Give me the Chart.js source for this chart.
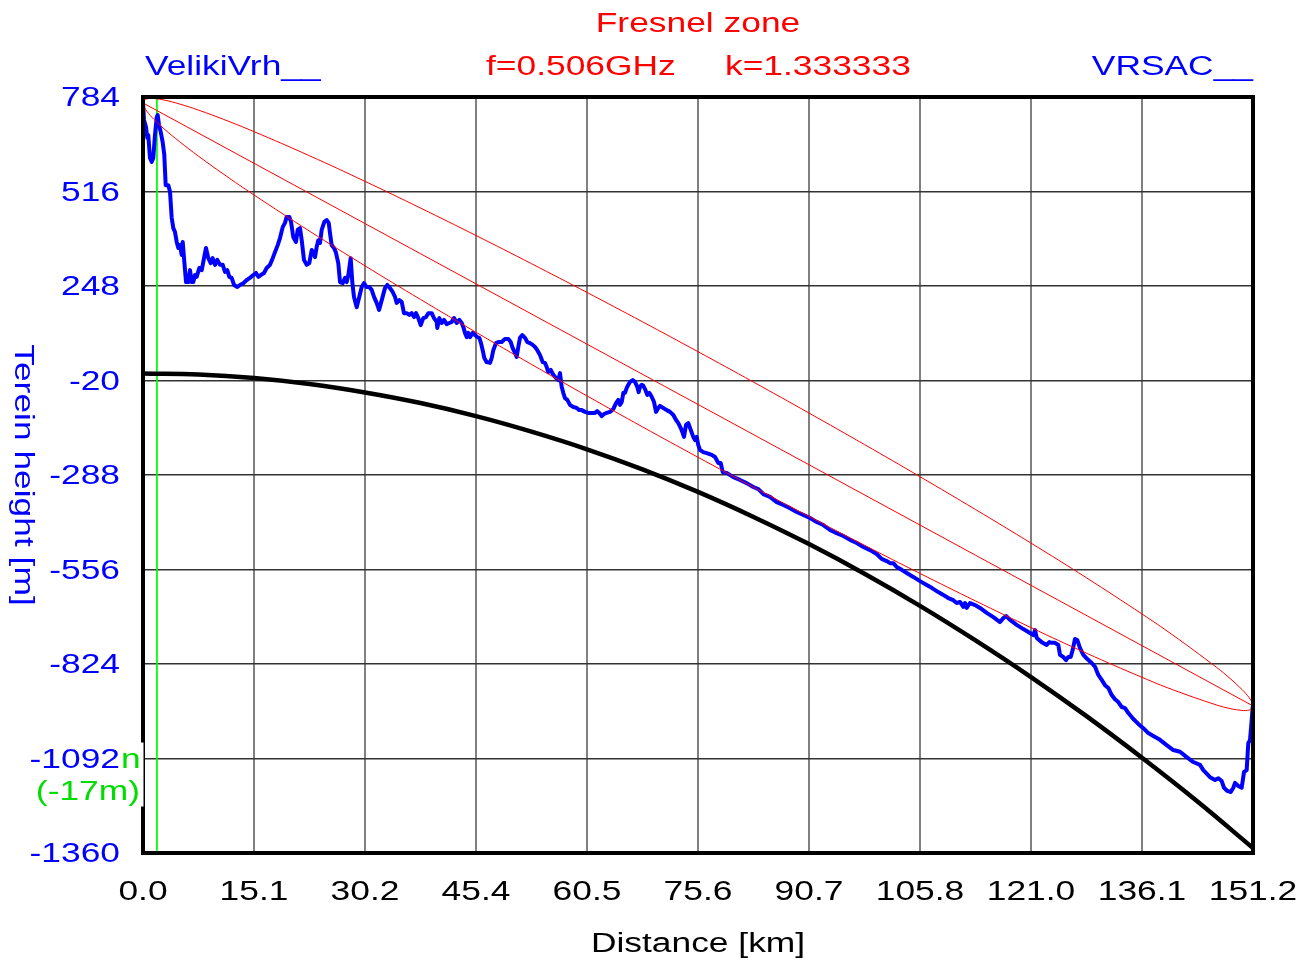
<!DOCTYPE html>
<html>
<head>
<meta charset="utf-8">
<script src="https://cdn.jsdelivr.net/npm/chart.js@4.4.1/dist/chart.umd.min.js"></script>
<style>
  html, body { margin: 0; padding: 0; background: #fff; overflow: hidden; }
  canvas { display: block; }
</style>
</head>
<body>
<canvas id="profileChart" width="1315" height="962"></canvas>
<script>
// link info
var siteA = "VelikiVrh__";
var siteB = "VRSAC__";
var freqText = "f=0.506GHz";
var kText = "k=1.333333";

// terrain profile (distance km, height m incl. earth bulge)
var terrainProfile = [
  [0.0,767],[0.14,719],[0.41,699],[0.59,668],[0.72,676],[0.95,611],[1.19,600],[1.40,611],[1.63,676],[1.87,727],
  [2.00,733],[2.18,705],[2.41,685],[2.68,656],[2.90,620],[3.09,534],[3.45,534],[3.68,515],[3.91,441],[4.13,412],
  [4.36,401],[4.59,373],[4.81,356],[5.04,364],[5.27,336],[5.41,373],[5.63,316],[5.86,259],[6.17,259],[6.40,293],
  [6.63,259],[6.85,259],[7.08,279],[7.31,274],[7.67,299],[8.00,293],[8.31,327],[8.58,356],[8.90,327],[9.22,313],
  [9.49,327],[9.81,308],[10.12,322],[10.49,308],[10.86,308],[11.17,288],[11.48,293],[11.76,274],[12.08,271],[12.40,251],
  [12.85,245],[13.21,251],[13.66,256],[14.13,265],[14.57,271],[15.02,279],[15.39,285],[15.71,274],[16.03,279],[16.48,285],
  [16.85,299],[17.30,308],[17.67,327],[17.98,344],[18.35,364],[18.66,384],[19.03,415],[19.34,427],[19.57,444],[19.93,444],
  [20.16,430],[20.47,387],[20.84,373],[21.07,407],[21.39,412],[21.62,378],[21.93,322],[22.30,308],[22.65,313],[22.98,350],
  [23.20,344],[23.43,330],[23.66,359],[23.88,378],[24.11,370],[24.34,407],[24.70,430],[25.02,435],[25.30,427],[25.47,398],
  [25.70,364],[26.02,356],[26.29,342],[26.60,313],[26.84,259],[27.20,256],[27.52,271],[27.75,259],[27.97,279],[28.29,327],
  [28.51,259],[28.74,217],[29.11,188],[29.42,214],[29.79,245],[30.10,256],[30.47,245],[30.83,245],[31.15,237],[31.47,217],
  [31.83,200],[32.15,180],[32.52,208],[32.96,242],[33.28,251],[33.65,242],[34.01,231],[34.33,217],[34.56,200],[34.91,208],
  [35.24,203],[35.55,171],[35.92,171],[36.28,166],[36.60,171],[36.92,160],[37.19,171],[37.50,157],[37.83,137],[38.18,157],
  [38.55,160],[38.86,171],[39.33,171],[39.64,157],[40.01,146],[40.09,129],[40.36,157],[40.69,143],[41.00,152],[41.37,140],
  [41.72,143],[42.05,146],[42.36,157],[42.73,143],[43.09,152],[43.41,143],[43.63,132],[43.86,115],[44.09,103],[44.31,115],
  [44.54,103],[44.91,115],[45.22,109],[45.54,103],[45.81,101],[46.04,86],[46.27,66],[46.49,44],[46.82,32],[47.27,30],
  [47.50,44],[47.72,66],[48.08,86],[48.40,89],[48.86,89],[49.31,98],[49.76,98],[50.09,89],[50.36,72],[50.67,58],
  [50.90,47],[51.12,75],[51.35,101],[51.67,109],[52.04,101],[52.35,89],[52.72,86],[53.08,81],[53.40,75],[53.71,66],
  [54.08,52],[54.45,32],[54.76,30],[54.99,18],[55.21,4],[55.54,10],[55.89,-4],[56.26,-13],[56.57,-19],[56.80,1],
  [57.03,-38],[57.25,-55],[57.48,-70],[57.80,-75],[58.16,-89],[58.61,-95],[59.08,-98],[59.43,-104],[59.76,-104],[60.21,-109],
  [60.66,-112],[61.12,-112],[61.57,-112],[61.88,-107],[62.16,-112],[62.48,-121],[62.80,-115],[63.16,-112],[63.61,-109],[64.06,-101],
  [64.43,-84],[64.74,-75],[64.98,-89],[65.21,-81],[65.43,-55],[65.66,-55],[65.89,-41],[66.11,-32],[66.34,-24],[66.71,-19],
  [67.02,-24],[67.33,-38],[67.52,-53],[67.70,-38],[67.93,-32],[68.15,-35],[68.42,-46],[68.70,-61],[68.97,-55],[69.29,-66],
  [69.61,-81],[69.88,-109],[70.19,-98],[70.42,-92],[70.87,-98],[71.34,-104],[71.79,-109],[72.24,-118],[72.61,-132],[72.92,-141],
  [73.25,-155],[73.52,-169],[73.69,-180],[73.97,-146],[74.28,-141],[74.61,-160],[74.96,-180],[75.19,-189],[75.42,-180],[75.64,-203],
  [75.87,-217],[76.32,-223],[76.79,-226],[77.47,-231],[77.92,-237],[78.37,-254],[78.69,-254],[78.97,-280],[79.51,-282],[80.41,-294],
  [81.32,-302],[82.23,-311],[83.13,-322],[83.82,-328],[84.50,-342],[85.41,-350],[86.32,-365],[87.22,-373],[88.13,-382],[89.05,-393],
  [89.94,-401],[90.86,-410],[91.77,-421],[92.67,-430],[93.58,-444],[94.49,-453],[95.39,-461],[96.31,-472],[97.22,-481],[98.12,-492],
  [99.03,-501],[99.94,-512],[100.62,-526],[101.30,-532],[101.76,-538],[102.21,-538],[102.67,-549],[103.35,-557],[104.03,-566],[104.93,-577],
  [105.84,-589],[106.75,-600],[107.43,-608],[108.33,-620],[109.01,-628],[109.69,-637],[110.37,-643],[110.84,-651],[111.29,-648],[111.74,-662],
  [111.97,-651],[112.20,-665],[112.65,-651],[113.33,-657],[114.01,-665],[114.93,-679],[115.83,-691],[116.74,-705],[117.19,-694],[117.56,-688],
  [118.10,-699],[119.01,-713],[119.91,-725],[120.83,-736],[121.28,-742],[121.51,-728],[121.74,-750],[122.42,-762],[123.10,-770],[123.46,-762],
  [123.78,-764],[124.23,-764],[124.68,-770],[124.91,-798],[125.36,-804],[125.73,-813],[126.04,-804],[126.37,-804],[126.64,-784],[126.95,-753],
  [127.27,-756],[127.64,-779],[128.09,-798],[128.63,-810],[129.23,-821],[129.68,-832],[130.13,-855],[130.59,-869],[131.04,-884],[131.49,-892],
  [131.95,-912],[132.40,-924],[132.85,-932],[133.32,-946],[133.77,-949],[134.22,-963],[134.90,-980],[135.58,-994],[136.26,-1006],[136.94,-1020],
  [137.62,-1028],[138.53,-1039],[139.44,-1054],[140.34,-1068],[141.26,-1073],[142.17,-1088],[143.07,-1102],[143.98,-1110],[144.43,-1125],[145.35,-1145],
  [146.03,-1153],[146.48,-1148],[146.94,-1156],[147.25,-1175],[147.71,-1184],[148.17,-1187],[148.52,-1175],[148.75,-1161],[149.20,-1170],[149.66,-1175],
  [149.98,-1130],[150.34,-1125],[150.56,-1048],[150.79,-1040],[151.02,-983],[151.16,-946],[151.20,-943]
];

// earth curvature line (k=4/3)
var earthDist   = [0, 7.56, 15.12, 22.68, 30.24, 37.8, 45.36, 52.92, 60.48, 68.04, 75.6, 83.16, 90.72, 98.28, 105.84, 113.4, 120.96, 128.52, 136.08, 143.64, 151.2];
var earthHeight = [0, -3, -13, -30, -54, -84, -121, -165, -215, -272, -336, -407, -484, -568, -659, -757, -861, -972, -1090, -1214, -1346];

// line of sight + first fresnel zone edges
var losDist   = [0, 151.2];
var losHeight = [767, -943];
var fresnelDist  = [0, 0.05, 0.15, 0.5, 1, 1.5, 3, 5, 7.56, 11, 15.12, 22.68, 30.24, 37.8, 45.36, 52.92, 60.48, 68.04, 75.6, 83.16, 90.72, 98.28, 105.84, 113.4, 120.96, 128.52, 136.08, 140.2, 146.2, 148.2, 149.7, 150.2, 150.7, 151.05, 151.15, 151.2];
var fresnelUpper = [767, 771.8, 774.7, 778.5, 780.0, 779.7, 774.9, 764.0, 746.8, 720.4, 685.8, 617.4, 544.8, 469.1, 391.2, 311.3, 229.7, 146.5, 61.7, -24.5, -112.3, -201.7, -292.8, -385.9, -481.2, -579.6, -682.2, -740.8, -833.0, -867.3, -896.3, -907.4, -920.1, -931.9, -937.0, -943];
var fresnelLower = [767, 761.0, 755.9, 744.1, 731.4, 720.3, 691.3, 657.0, 616.2, 564.8, 506.2, 403.6, 305.2, 209.9, 116.8, 25.7, -63.7, -151.5, -237.7, -322.5, -405.7, -487.3, -567.2, -645.1, -720.8, -793.4, -861.8, -896.4, -940.0, -950.9, -955.7, -956.0, -954.5, -950.7, -947.8, -943];

// marker
var markerDist = 1.9;
var markerLabel = "(-17m)";

var xMin = 0, xMax = 151.2, xStep = 15.12;
var yMin = -1360, yMax = 784, yStep = 268;

function pairs(xs, ys) {
  return xs.map(function (x, i) { return { x: x, y: ys[i] }; });
}

var FONT = '27px "Liberation Sans", Arial, sans-serif';
var STRETCH = 1.31;

function stretchText(ctx, s, x, y, color, align) {
  ctx.save();
  ctx.translate(x, y + 2);
  ctx.scale(STRETCH, 1);
  ctx.font = FONT;
  ctx.fillStyle = color;
  ctx.textAlign = align;
  ctx.textBaseline = 'middle';
  ctx.fillText(s, 0, 0);
  ctx.restore();
}

var decorPlugin = {
  id: 'decor',
  beforeDraw: function (chart) {
    var ctx = chart.ctx;
    ctx.save();
    ctx.fillStyle = '#ffffff';
    ctx.fillRect(0, 0, chart.width, chart.height);
    ctx.restore();
  },
  afterDraw: function (chart) {
    var ctx = chart.ctx;
    var a = chart.chartArea;
    var xs = chart.scales.x, ys = chart.scales.y;

    // frame
    ctx.save();
    ctx.strokeStyle = '#000';
    ctx.lineWidth = 4;
    ctx.strokeRect(a.left, a.top, a.right - a.left, a.bottom - a.top);
    ctx.restore();

    // white patch behind marker label
    var yMark = ys.getPixelForValue(-1092);
    ctx.save();
    ctx.fillStyle = '#fff';
    ctx.fillRect(30, yMark - 16, a.left + 0.5 - 30, 64);
    ctx.restore();

    // y tick labels
    ys.ticks.forEach(function (t) {
      stretchText(ctx, String(Math.round(t.value)), 120, ys.getPixelForValue(t.value), '#0000ff', 'right');
    });
    // green leftover next to -1092
    stretchText(ctx, 'n', 121, yMark, '#00dd00', 'left');
    stretchText(ctx, markerLabel, 140, yMark + 32, '#00dd00', 'right');

    // x tick labels
    xs.ticks.forEach(function (t) {
      stretchText(ctx, t.value.toFixed(1), xs.getPixelForValue(t.value), 891, '#000', 'center');
    });

    // axis titles
    var cx = (a.left + a.right) / 2;
    stretchText(ctx, 'Distance [km]', cx, 943, '#000', 'center');
    ctx.save();
    ctx.translate(22, (a.top + a.bottom) / 2);
    ctx.rotate(Math.PI / 2);
    stretchText(ctx, 'Terein height [m]', 0, -2, '#0000ff', 'center');
    ctx.restore();

    // header
    stretchText(ctx, 'Fresnel zone', cx, 23, '#ff0000', 'center');
    stretchText(ctx, siteA, 145, 66, '#0000ff', 'left');
    stretchText(ctx, freqText, 486, 66, '#ff0000', 'left');
    stretchText(ctx, kText, 725, 66, '#ff0000', 'left');
    stretchText(ctx, siteB, a.right, 66, '#0000ff', 'right');
  }
};

var profileChartContext = document.getElementById('profileChart').getContext('2d');
var profileChart = new Chart(profileChartContext, {
  type: 'line',
  data: {
    datasets: [{
      label: 'Fresnel upper',
      data: pairs(fresnelDist, fresnelUpper),
      borderColor: '#ff0000',
      borderWidth: 1,
      tension: 0.4,
      pointRadius: 0,
      order: 0
    }, {
      label: 'Fresnel lower',
      data: pairs(fresnelDist, fresnelLower),
      borderColor: '#ff0000',
      borderWidth: 1,
      tension: 0.4,
      pointRadius: 0,
      order: 0
    }, {
      label: 'LOS',
      data: pairs(losDist, losHeight),
      borderColor: '#ff0000',
      borderWidth: 1,
      pointRadius: 0,
      order: 0
    }, {
      label: 'Terrain',
      data: terrainProfile.map(function (p) { return { x: p[0], y: p[1] }; }),
      borderColor: '#0000ff',
      borderWidth: 4,
      borderJoinStyle: 'round',
      borderCapStyle: 'round',
      tension: 0,
      pointRadius: 0,
      order: 1
    }, {
      label: 'Earth',
      data: pairs(earthDist, earthHeight),
      borderColor: '#000000',
      borderWidth: 4.5,
      tension: 0.4,
      pointRadius: 0,
      order: 2
    }, {
      label: 'Marker',
      data: [{ x: markerDist, y: yMax }, { x: markerDist, y: yMin }],
      borderColor: '#00ff00',
      borderWidth: 1,
      pointRadius: 0,
      order: 3
    }]
  },
  options: {
    responsive: false,
    animation: false,
    layout: { padding: { left: 143, right: 62, top: 97, bottom: 109 } },
    scales: {
      x: {
        type: 'linear',
        min: xMin,
        max: xMax,
        ticks: { display: false, stepSize: xStep, autoSkip: false },
        grid: { color: '#808080', lineWidth: 2, drawTicks: false },
        border: { display: false },
        afterFit: function (s) { s.height = 0; }
      },
      y: {
        type: 'linear',
        min: yMin,
        max: yMax,
        ticks: { display: false, stepSize: yStep, autoSkip: false },
        grid: { color: '#333333', lineWidth: 1.5, drawTicks: false },
        border: { display: false },
        afterFit: function (s) { s.width = 0; }
      }
    },
    plugins: {
      legend: { display: false },
      tooltip: { enabled: false }
    }
  },
  plugins: [decorPlugin]
});
</script>
</body>
</html>
